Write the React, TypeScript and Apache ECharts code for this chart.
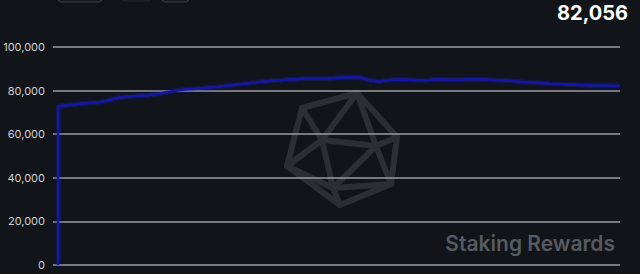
import React, { useEffect, useRef } from "react";
import * as echarts from "echarts";

// Day index of each sample (the first two share day 0: the supply jumps from zero)
const days: number[] = [
  0, 0, 1, 2, 3, 4, 5, 6, 7, 8, 9, 10, 11, 12, 13, 14, 15, 16, 17, 18, 19, 20,
  21, 22, 23, 24, 25, 26, 27, 28, 29, 30, 31, 32, 33, 34, 35, 36, 37, 38, 39,
  40, 41, 42, 43, 44, 45, 46, 47, 48, 49, 50, 51, 52, 53, 54, 55, 56,
];

// Staked amount for each day
const staked: number[] = [
  0, 72800, 73400, 73900, 74300, 74600, 75600, 76700, 77300, 77600, 77900,
  78600, 79500, 80200, 80600, 81000, 81400, 81800, 82300, 82900, 83400, 84000,
  84400, 84800, 85100, 85300, 85500, 85500, 85700, 85900, 86100, 86100, 84800,
  84200, 84900, 85100, 85000, 84800, 84900, 85200, 85000, 85000, 85300, 85200,
  85000, 84800, 84500, 84100, 83800, 83500, 83200, 83000, 82800, 82600, 82400,
  82300, 82200, 82056,
];

const yTicks: number[] = [0, 20000, 40000, 60000, 80000, 100000];
const latestLabel = "82,056";
const brandLabel = "Staking Rewards";

// Projected icosahedron used as a faint background mark
const outer: number[][] = [
  [302, 108],
  [357, 93],
  [397, 137],
  [391, 184],
  [340, 205],
  [287, 166],
];
const inner: number[][] = [
  [322, 140],
  [376, 146],
  [333, 188],
];

export default function App() {
  const ref = useRef<HTMLDivElement>(null);

  useEffect(() => {
    if (!ref.current) return;
    const chart = echarts.init(ref.current, null, { renderer: "svg" });

    const markStroke = {
      stroke: "#2b2e32",
      lineWidth: 6,
      lineJoin: "round",
      lineCap: "round",
      fill: "none",
    };
    const markLines: any[] = [
      { type: "polygon", shape: { points: outer }, style: { ...markStroke } },
      { type: "polygon", shape: { points: inner }, style: { ...markStroke } },
    ];
    const links = [
      [0, [5, 0, 1]],
      [1, [1, 2, 3]],
      [2, [3, 4, 5]],
    ] as [number, number[]][];
    links.forEach(([t, hs]) => {
      hs.forEach((h) => {
        markLines.push({
          type: "line",
          shape: {
            x1: inner[t][0],
            y1: inner[t][1],
            x2: outer[h][0],
            y2: outer[h][1],
          },
          style: { ...markStroke },
        });
      });
    });

    const series = days.map((d, i) => [d, staked[i]]);

    chart.setOption({
      animation: false,
      backgroundColor: "#111419",
      grid: { left: 53, right: 20, top: 47, bottom: 9, containLabel: false },
      xAxis: {
        type: "value",
        min: -0.5,
        max: 56,
        show: false,
      },
      yAxis: {
        type: "value",
        min: 0,
        max: 100000,
        interval: 20000,
        axisLine: { show: false },
        axisTick: { show: false },
        axisLabel: {
          color: "#cfd0d2",
          fontFamily: "Inter",
          fontSize: 11,
          margin: 8,
          formatter: (v: number) =>
            yTicks.includes(v) ? v.toLocaleString("en-US") : "",
        },
        splitLine: { lineStyle: { color: "#9a9b9e", width: 1.5 } },
      },
      graphic: [
        {
          type: "group",
          z: -10,
          silent: true,
          children: markLines,
        },
        {
          type: "rect",
          shape: { x: 58, y: -20, width: 44, height: 22, r: 4 },
          style: { fill: "#15181d", stroke: "#3c3f44", lineWidth: 1.2 },
        },
        {
          type: "rect",
          shape: { x: 122, y: -20, width: 30, height: 21, r: 4 },
          style: { fill: "#13161b", stroke: "#24272c", lineWidth: 1 },
        },
        {
          type: "rect",
          shape: { x: 162, y: -20, width: 27, height: 22, r: 4 },
          style: { fill: "#15181d", stroke: "#3c3f44", lineWidth: 1.2 },
        },
        {
          type: "text",
          right: 12,
          top: 3,
          style: {
            text: latestLabel,
            fill: "#ffffff",
            font: "bold 20px Inter",
          },
        },
        {
          type: "text",
          right: 25,
          top: 233,
          style: {
            text: brandLabel,
            fill: "#575b61",
            font: "600 21px Inter",
          },
        },
      ],
      series: [
        {
          type: "line",
          data: series,
          showSymbol: false,
          smooth: false,
          lineStyle: {
            color: "#1818a6",
            width: 2.5,
            shadowColor: "rgba(30,30,200,0.55)",
            shadowBlur: 4,
          },
          z: 3,
        },
      ],
    });

    return () => chart.dispose();
  }, []);

  return (
    <div
      ref={ref}
      style={{ position: "fixed", left: 0, top: 0, width: 640, height: 274 }}
    />
  );
}
